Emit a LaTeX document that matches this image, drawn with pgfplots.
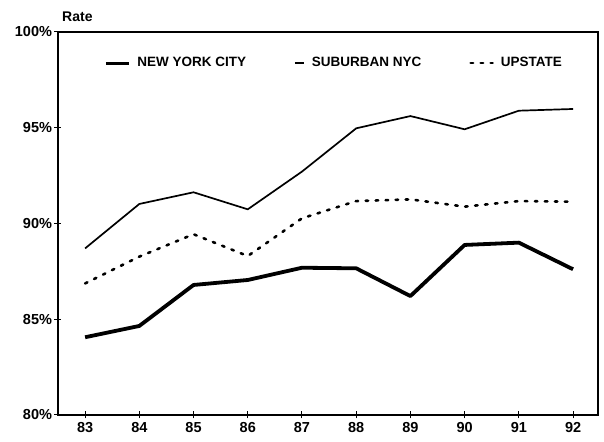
\documentclass[border=0pt]{standalone}
\usepackage{pgfplots}
\pgfplotsset{compat=1.18}
\usepackage{fontspec}
\setmainfont{Liberation Sans}
\begin{document}
\begin{tikzpicture}
\begin{axis}[
  scale only axis, width=540pt, height=383pt,
  xmin=82.5, xmax=92.46, ymin=80, ymax=100,
  xtick={83,84,85,86,87,88,89,90,91,92},
  xticklabels={83,84,85,86,87,88,89,90,91,92},
  ytick={80,85,90,95,100},
  yticklabels={80\%,85\%,90\%,95\%,100\%},
  tick align=center, major tick length=7pt,
  xtick pos=bottom, ytick pos=left,
  axis line style={line width=1.6pt},
  tick style={line width=1pt, black},
  ticklabel style={font=\fontsize{14.5}{16}\selectfont\bfseries},
  xticklabel style={yshift=0pt},
  yticklabel style={xshift=1pt},
  clip=false,
  legend columns=3,
  legend style={draw=none, fill=none, at={(0.080,0.919)}, anchor=west,
    font=\fontsize{13.5}{15}\selectfont\bfseries,
    /tikz/every odd column/.append style={column sep=5pt},
    /tikz/every even column/.append style={column sep=46pt}},
]
\addplot[black, line width=3.8pt, line join=round,
  legend image code/.code={\draw[black, line width=3pt] (0pt,0pt) -- (23pt,0pt);}]
  coordinates {(83,84.06) (84,84.65) (85,86.79) (86,87.05) (87,87.69) (88,87.66) (89,86.21) (90,88.88) (91,89.0) (92,87.61)};
\addlegendentry{NEW YORK CITY}
\addplot[black, line width=1.7pt, line join=round,
  legend image code/.code={\draw[black, line width=1.7pt] (0pt,0pt) -- (9pt,0pt);}]
  coordinates {(83,88.70) (84,91.02) (85,91.63) (86,90.74) (87,92.71) (88,94.97) (89,95.61) (90,94.92) (91,95.89) (92,95.98)};
\addlegendentry{SUBURBAN NYC}
\addplot[black, line width=2.6pt, dash pattern=on 2.5pt off 7.5pt, line cap=round,
  legend image code/.code={\draw[black, line width=2.6pt, dash pattern=on 2.5pt off 7.5pt, line cap=round] (0pt,0pt) -- (22pt,0pt);}]
  coordinates {(83,86.87) (84,88.27) (85,89.44) (86,88.30) (87,90.27) (88,91.17) (89,91.26) (90,90.88) (91,91.17) (92,91.14)};
\addlegendentry{UPSTATE}
\node[anchor=south west, font=\fontsize{14}{16}\selectfont\bfseries, inner sep=0pt] at ([shift={(4pt,10pt)}]rel axis cs:0,1) {Rate};
\end{axis}
\pgfresetboundingbox
\path[use as bounding box] ([shift={(-58pt,-27pt)}]current axis.south west) rectangle ([shift={(6pt,32pt)}]current axis.north east);
\end{tikzpicture}
\end{document}
